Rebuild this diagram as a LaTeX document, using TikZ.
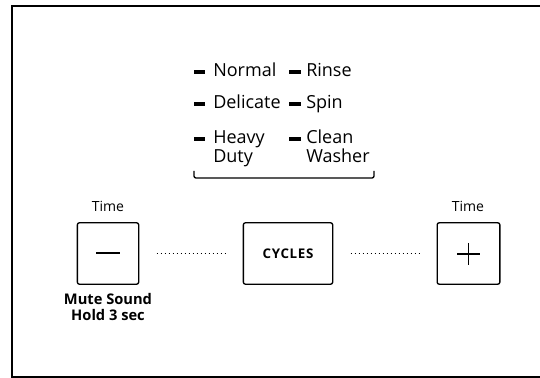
\documentclass[tikz,border=0pt]{standalone}
\usepackage{fontspec}
\setmainfont{Open Sans}
\usepackage{tikz}

\begin{document}
\begin{tikzpicture}[x=0.75pt,y=0.75pt,yscale=-1,xscale=1,
    key/.style={draw, line width=1pt, rounded corners=1.5pt, minimum height=46pt, inner sep=0pt},
    dotline/.style={dotted, line width=1pt, shorten <=13pt, shorten >=12pt},
    tick/.style={fill, inner sep=0pt, minimum width=8.5pt, minimum height=2.6pt},
    item/.style={anchor=base west, inner sep=0pt, align=left, font=\fontsize{13.5}{14.3}\selectfont},
    small/.style={inner sep=0pt, font=\fontsize{10.5}{12}\selectfont}]

            \useasboundingbox (0,0) rectangle (540,378);

            % Panel frame
            \draw [line width=1.6pt]  (540,6) -- (12,6) -- (12,377) -- (540,377);

            % Cycle list
            \node [tick] (tnormal)  at (199.5, 72) {};
            \node [tick] (tdelic)   at (199.5,104) {};
            \node [tick] (theavy)   at (199.5,139) {};
            \node [tick] (trinse)   at (295,   72) {};
            \node [tick] (tspin)    at (295,  104) {};
            \node [tick] (tclean)   at (295,  139) {};
            \node [item] (normal)   at (213, 77) {Normal};
            \node [item] (delicate) at (213,109) {Delicate};
            \node [item] (heavy)    at (213,163) {Heavy\\Duty};
            \node [item] (rinse)    at (306, 77) {Rinse};
            \node [item] (spin)     at (306,109) {Spin};
            \node [item] (clean)    at (306,163) {Clean\\Washer};

            % Bracket under the list
            \draw [line width=1pt, rounded corners=1.5pt]  (194,171) -- (194,178) -- (374,178) -- (374,171);

            % Keys
            \node [key, minimum width=46pt] (minus)  at (108,253.5) {};
            \node [key, minimum width=67pt] (cycles) at (288,253.5) {\fontsize{10}{12}\bfseries\addfontfeature{LetterSpace=5}CYCLES};
            \node [key, minimum width=47pt] (plus)   at (468.5,253.5) {};

            % Key symbols
            \draw [line width=1pt]  (96,253) -- (120,253);
            \draw [line width=1pt]  (457,254) -- (480,254) (468.5,243) -- (468.5,265);

            % Dotted links
            \draw [dotline]  (minus) -- (cycles);
            \draw [dotline]  (cycles) -- (plus);

            % Labels
            \node [small, anchor=base] (tminus) at (108,212) {Time};
            \node [small, anchor=base] (tplus)  at (468,212) {Time};
            \node [small, anchor=north, align=center, font=\fontsize{11}{12.2}\selectfont\bfseries] (mute) at (108,293) {Mute Sound\\Hold 3 sec};

\end{tikzpicture}
\end{document}
